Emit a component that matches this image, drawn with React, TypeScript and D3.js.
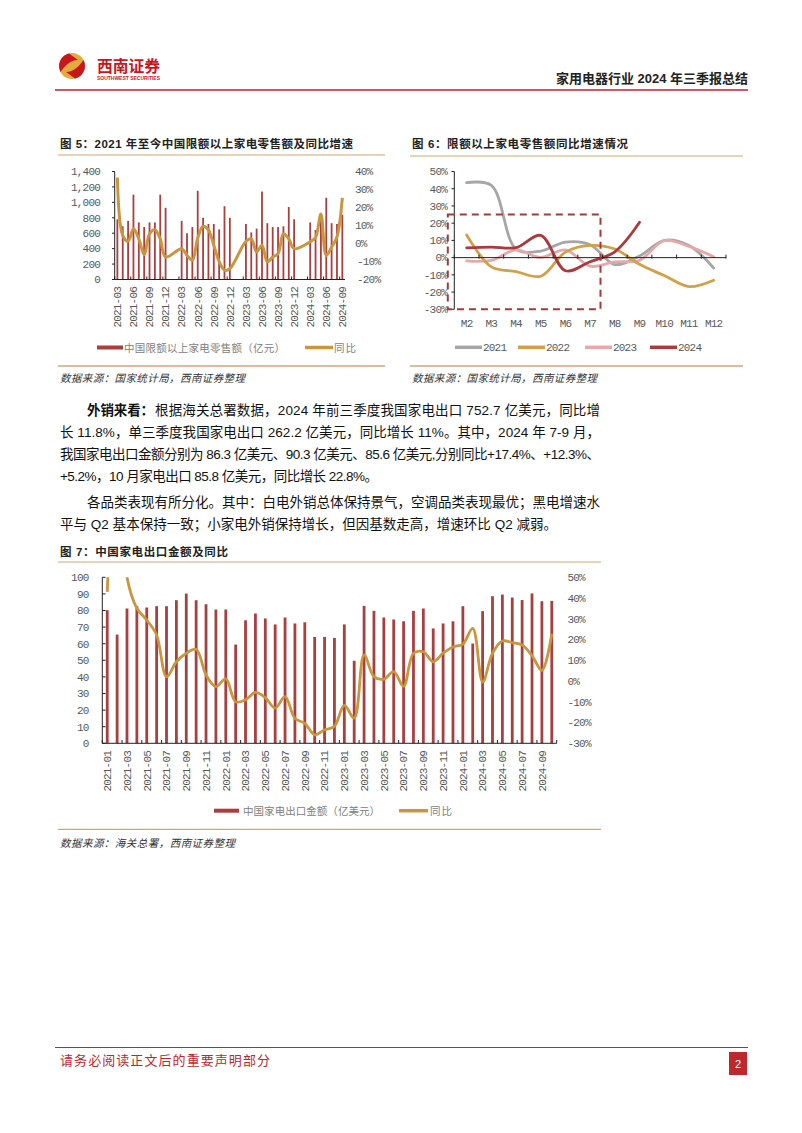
import React from "react";
import * as d3 from "d3";

// ---------------- Data ----------------
// Chart 5: 限额以上家电零售额（亿元） & 同比 (%)
const c5Months = [
  "2021-03","2021-04","2021-05","2021-06","2021-07","2021-08","2021-09","2021-10","2021-11","2021-12",
  "2022-01","2022-02","2022-03","2022-04","2022-05","2022-06","2022-07","2022-08","2022-09","2022-10","2022-11","2022-12",
  "2023-01","2023-02","2023-03","2023-04","2023-05","2023-06","2023-07","2023-08","2023-09","2023-10","2023-11","2023-12",
  "2024-01","2024-02","2024-03","2024-04","2024-05","2024-06","2024-07","2024-08","2024-09",
];
const c5Sales: (number | null)[] = [
  780, 690, 760, 1100, 740, 680, 740, 740, 1100, 930,
  null, null, 760, 600, 680, 1150, 800, 720, 720, 650, 950, 800,
  null, null, 720, 610, 660, 1140, 730, 680, 680, 690, 940, 780,
  null, null, 740, 640, 800, 1060, 730, 720, 840,
];
const c5Yoy: (number | null)[] = [
  36.7, 4.5, 1.2, 8.2, 2.6, -6.2, 5.4, 7.6, 2.6, -7.5,
  null, null, -2.9, -6.6, -9.3, 3, 9.6, 7.5, -1, -10, -14.8, -14,
  null, null, 1.2, 2.6, -4.7, -1, -10.2, -7.5, -5.6, 5.4, 2.6, -2.9,
  null, null, 1, 3.3, 16.4, -6.6, -2, 3.6, 25.3,
];
const c5TickLabels = [
  "2021-03","2021-06","2021-09","2021-12","2022-03","2022-06","2022-09","2022-12",
  "2023-03","2023-06","2023-09","2023-12","2024-03","2024-06","2024-09",
];
const c5LeftTicks = [0, 200, 400, 600, 800, 1000, 1200, 1400];
const c5RightTicks = [-20, -10, 0, 10, 20, 30, 40];

// Chart 6: 限额以上家电零售额同比增速 (%)
const c6Months = ["M2","M3","M4","M5","M6","M7","M8","M9","M10","M11","M12"];
const c6Y2021 = [43.5, 42, 5, 3.8, 9, 7.5, -4, 1, 10, 7, -6];
const c6Y2022 = [13.1, -5.4, -8.1, -10.8, 3.2, 7.1, 5, -3.9, -10.4, -16.8, -13.1];
const c6Y2023 = [-1.9, -1.6, 4.5, 0.1, 4.5, -5, -2.5, -1.5, 9.8, 6.5, 0.5];
const c6Y2024 = [5.7, 6.1, 5.8, 12.9, -7.6, -2.4, 3.4, 20.5];
const c6Series = ["2021", "2022", "2023", "2024"];
const c6Ticks = [-30, -20, -10, 0, 10, 20, 30, 40, 50];

// Chart 7: 中国家电出口金额（亿美元） & 同比 (%)
const c7Months = [
  "2021-01","2021-02","2021-03","2021-04","2021-05","2021-06","2021-07","2021-08","2021-09","2021-10","2021-11","2021-12",
  "2022-01","2022-02","2022-03","2022-04","2022-05","2022-06","2022-07","2022-08","2022-09","2022-10","2022-11","2022-12",
  "2023-01","2023-02","2023-03","2023-04","2023-05","2023-06","2023-07","2023-08","2023-09","2023-10","2023-11","2023-12",
  "2024-01","2024-02","2024-03","2024-04","2024-05","2024-06","2024-07","2024-08","2024-09","2024-10",
];
const c7Export = [
  80.2, 65.5, 81.2, 82.6, 81.8, 82.6, 82.6, 86.2, 90.2, 86.2, 83.8, 80.6,
  80.6, 59.5, 74.1, 78.2, 75.2, 71.6, 75.8, 72.2, 72.9, 64.1, 64.1, 63.5,
  71.6, 49.7, 82.8, 79.8, 75.8, 74.6, 73.5, 79.8, 81.2, 69.2, 72.2, 73.5,
  82.6, 60.1, 79.6, 88.6, 89.6, 87.8, 86.3, 90.3, 85.6, 85.8,
];
const c7Yoy = [
  43, 120, 50, 35.1, 29.4, 22.2, 2.1, 9.3, 13.4, 15.3, 3, -2.7,
  1, -10, -9, -5.5, -8, -13, -7.5, -18, -20.4, -25.9, -23.5, -21.8,
  -11.7, -17.9, 12.6, 2.1, 0.9, 4.5, -2.5, 13.4, 14.1, 9.3, 13.4, 16.4,
  17.8, 25.4, -0.5, 13.4, 19.3, 18.5, 17.4, 12.3, 5.2, 22.8,
];
const c7TickLabels = [
  "2021-01","2021-03","2021-05","2021-07","2021-09","2021-11",
  "2022-01","2022-03","2022-05","2022-07","2022-09","2022-11",
  "2023-01","2023-03","2023-05","2023-07","2023-09","2023-11",
  "2024-01","2024-03","2024-05","2024-07","2024-09",
];
const c7LeftTicks = [0, 10, 20, 30, 40, 50, 60, 70, 80, 90, 100];
const c7RightTicks = [-30, -20, -10, 0, 10, 20, 30, 40, 50];

// Texts
const para1Lines = [
  "根据海关总署数据，2024 年前三季度我国家电出口 752.7 亿美元，同比增",
  "长 11.8%，单三季度我国家电出口 262.2 亿美元，同比增长 11%。其中，2024 年 7-9 月，",
  "我国家电出口金额分别为 86.3 亿美元、90.3 亿美元、85.6 亿美元,分别同比+17.4%、+12.3%、",
  "+5.2%，10 月家电出口 85.8 亿美元，同比增长 22.8%。",
];
const para2Lines = [
  "各品类表现有所分化。其中：白电外销总体保持景气，空调品类表现最优；黑电增速水",
  "平与 Q2 基本保持一致；小家电外销保持增长，但因基数走高，增速环比 Q2 减弱。",
];

// ---------------- Styles ----------------
const MONO = '"Liberation Mono", "DejaVu Sans Mono", monospace';
const CJK = '"Liberation Sans", "Noto Sans CJK SC", sans-serif';
const BAR = "#A8403F";
const GOLD = "#C9963F";
const TAN = "#D6A66E";
const RED = "#C0272D";
const SER_COLORS: Record<string, string> = {
  "2021": "#A6A6A6",
  "2022": "#D2A048",
  "2023": "#E6A9AB",
  "2024": "#A93A3E",
};
const tickText: React.CSSProperties = {
  fontFamily: MONO,
  fontSize: 11,
  letterSpacing: -0.8,
  fill: "#595959",
};

type Pt = { x: number; y: number };
const smooth = d3
  .line<Pt>()
  .x((d) => d.x)
  .y((d) => d.y)
  .curve(d3.curveCatmullRom.alpha(0.5));

// ---------------- Chart 5 ----------------
function Chart5() {
  const x = d3.scaleBand<string>().domain(c5Months).range([114.7, 345]);
  const yL = d3.scaleLinear().domain([0, 1400]).range([279.5, 171.5]);
  const yR = d3.scaleLinear().domain([-20, 40]).range([279.5, 171.5]);
  const cx = (m: string) => (x(m) as number) + x.bandwidth() / 2;
  const pts: Pt[] = [];
  c5Months.forEach((m, i) => {
    const v = c5Yoy[i];
    if (v != null) pts.push({ x: cx(m), y: yR(v) });
  });
  const fmt = d3.format(",");
  return (
    <g>
      <text x={60} y={148} textLength={293} lengthAdjust="spacing"
        style={{ fontFamily: CJK, fontSize: 11.5, fontWeight: 700, fill: "#222" }}>
        图 5：2021 年至今中国限额以上家电零售额及同比增速
      </text>
      <line x1={58} x2={385} y1={155} y2={155} stroke={TAN} strokeWidth={1.2} />
      {c5Months.map((m, i) => {
        const v = c5Sales[i];
        if (v == null) return null;
        return (
          <rect key={m} x={cx(m) - 0.9} width={1.8} y={yL(v)} height={yL(0) - yL(v)} fill={BAR} />
        );
      })}
      <path d={smooth(pts) || ""} fill="none" stroke={GOLD} strokeWidth={3} strokeLinejoin="round" />
      {/* axes */}
      <line x1={114.7} x2={114.7} y1={171.5} y2={279.5} stroke="#222" strokeWidth={1} />
      {c5LeftTicks.map((t) => (
        <g key={t}>
          <line x1={112} x2={114.7} y1={yL(t)} y2={yL(t)} stroke="#222" />
          <text x={100} y={yL(t) + 3.8} textAnchor="end" style={tickText}>{fmt(t)}</text>
        </g>
      ))}
      {c5RightTicks.map((t) => (
        <text key={t} x={t < 0 ? 357 : 355} y={yR(t) + 3.8} style={tickText}>{t}%</text>
      ))}
      <line x1={114.7} x2={345} y1={279.5} y2={279.5} stroke="#222" strokeWidth={1} />
      {c5TickLabels.map((m) => (
        <g key={m}>
          <line x1={x(m) as number} x2={x(m) as number} y1={276.5} y2={279.5} stroke="#222" />
          <text transform={`translate(${cx(m) + 3.8},${287}) rotate(-90)`} textAnchor="end" style={tickText}>
            {m}
          </text>
        </g>
      ))}
      {/* legend */}
      <rect x={97} y={345.5} width={26} height={4} fill={BAR} />
      <text x={124} y={351.5} textLength={161} lengthAdjust="spacing"
        style={{ fontFamily: CJK, fontSize: 10.5, fill: "#808080" }}>
        中国限额以上家电零售额（亿元）
      </text>
      <line x1={305} x2={333} y1={347.5} y2={347.5} stroke={GOLD} strokeWidth={3.5} />
      <text x={334} y={351.5} textLength={22} lengthAdjust="spacing"
        style={{ fontFamily: CJK, fontSize: 10.5, fill: "#808080" }}>同比</text>
      <line x1={58} x2={385} y1={366} y2={366} stroke={TAN} strokeWidth={1.3} />
      <text x={60} y={382} textLength={185} lengthAdjust="spacing"
        style={{ fontFamily: CJK, fontSize: 10.5, fontStyle: "italic", fill: "#333" }}>
        数据来源：国家统计局，西南证券整理
      </text>
    </g>
  );
}

// ---------------- Chart 6 ----------------
function Chart6() {
  const x = d3.scaleBand<string>().domain(c6Months).range([454.3, 726]);
  const y = d3.scaleLinear().domain([-30, 50]).range([309.3, 171.5]);
  const cx = (m: string) => (x(m) as number) + x.bandwidth() / 2;
  const seriesData: Record<string, number[]> = {
    "2021": c6Y2021,
    "2022": c6Y2022,
    "2023": c6Y2023,
    "2024": c6Y2024,
  };
  const order = ["2021", "2023", "2022", "2024"];
  const legendX = [455, 518, 585, 650];
  return (
    <g>
      <text x={412} y={148} textLength={216} lengthAdjust="spacing"
        style={{ fontFamily: CJK, fontSize: 11.5, fontWeight: 700, fill: "#222" }}>
        图 6：限额以上家电零售额同比增速情况
      </text>
      <line x1={410} x2={743} y1={156} y2={156} stroke={TAN} strokeWidth={1.2} />
      {order.map((s) => {
        const pts: Pt[] = seriesData[s].map((v, i) => ({ x: cx(c6Months[i]), y: y(v) }));
        return (
          <path key={s} d={smooth(pts) || ""} fill="none" stroke={SER_COLORS[s]} strokeWidth={2.8}
            strokeLinejoin="round" strokeLinecap="round" />
        );
      })}
      {/* axes */}
      <line x1={454.3} x2={454.3} y1={171.5} y2={309.3} stroke="#222" />
      {c6Ticks.map((t) => (
        <g key={t}>
          <line x1={451.5} x2={454.3} y1={y(t)} y2={y(t)} stroke="#222" />
          <text x={447} y={y(t) + 3.8} textAnchor="end" style={tickText}>{t}%</text>
        </g>
      ))}
      <line x1={454.3} x2={726} y1={y(0)} y2={y(0)} stroke="#222" />
      {[...c6Months.map((m) => x(m) as number), 726].map((bx, i) => (
        <line key={i} x1={bx} x2={bx} y1={y(0) - 3} y2={y(0) + 1} stroke="#222" />
      ))}
      {c6Months.map((m) => (
        <text key={m} x={cx(m)} y={326.5} textAnchor="middle" style={tickText}>{m}</text>
      ))}
      {/* dashed annotation box */}
      <rect x={454.3 - 6.5} y={y(25)} width={(x("M8") as number) - 2 - (454.3 - 6.5)} height={y(-30) - y(25)}
        fill="none" stroke="#A33A3D" strokeWidth={2} strokeDasharray="7,5" />
      {/* legend */}
      {c6Series.map((s, i) => (
        <g key={s}>
          <line x1={legendX[i]} x2={legendX[i] + 27} y1={347.3} y2={347.3} stroke={SER_COLORS[s]} strokeWidth={3.5} />
          <text x={legendX[i] + 28} y={351.3} style={tickText}>{s}</text>
        </g>
      ))}
      <line x1={410} x2={743} y1={366} y2={366} stroke={TAN} strokeWidth={1.3} />
      <text x={412} y={382} textLength={185} lengthAdjust="spacing"
        style={{ fontFamily: CJK, fontSize: 10.5, fontStyle: "italic", fill: "#333" }}>
        数据来源：国家统计局，西南证券整理
      </text>
    </g>
  );
}

// ---------------- Chart 7 ----------------
function Chart7() {
  const x = d3.scaleBand<string>().domain(c7Months).range([102.3, 556.7]);
  const yL = d3.scaleLinear().domain([0, 100]).range([743.3, 577.3]);
  const yR = d3.scaleLinear().domain([-30, 50]).range([743.3, 577.3]);
  const cx = (m: string) => (x(m) as number) + x.bandwidth() / 2;
  const pts: Pt[] = c7Months.map((m, i) => ({ x: cx(m), y: yR(c7Yoy[i]) }));
  return (
    <g>
      <text x={60} y={556} textLength={168} lengthAdjust="spacing"
        style={{ fontFamily: CJK, fontSize: 11.5, fontWeight: 700, fill: "#222" }}>
        图 7：中国家电出口金额及同比
      </text>
      <line x1={58} x2={601} y1={562} y2={562} stroke={TAN} strokeWidth={1.2} />
      <defs>
        <clipPath id="c7clip">
          <rect x={102.3} y={577.3} width={454.4} height={166} />
        </clipPath>
      </defs>
      {c7Months.map((m, i) => (
        <rect key={m} x={cx(m) - 1.4} width={2.8} y={yL(c7Export[i])} height={yL(0) - yL(c7Export[i])} fill={BAR} />
      ))}
      <path d={smooth(pts) || ""} fill="none" stroke={GOLD} strokeWidth={2.8} strokeLinejoin="round"
        clipPath="url(#c7clip)" />
      {/* axes */}
      <line x1={102.3} x2={102.3} y1={577.3} y2={743.3} stroke="#222" />
      {c7LeftTicks.map((t) => (
        <g key={t}>
          <line x1={102.3} x2={105.5} y1={yL(t)} y2={yL(t)} stroke="#222" />
          <text x={88.5} y={yL(t) + 3.8} textAnchor="end" style={tickText}>{t}</text>
        </g>
      ))}
      {c7RightTicks.map((t) => (
        <text key={t} x={567.5} y={yR(t) + 3.8} style={tickText}>{t}%</text>
      ))}
      <line x1={102.3} x2={556.7} y1={743.3} y2={743.3} stroke="#222" />
      {[...c7TickLabels.map((m) => x(m) as number), 556.7].map((bx, i) => (
        <line key={i} x1={bx} x2={bx} y1={740} y2={743.3} stroke="#222" />
      ))}
      {c7TickLabels.map((m) => (
        <text key={m} transform={`translate(${cx(m) + 3.8},${751}) rotate(-90)`} textAnchor="end" style={tickText}>
          {m}
        </text>
      ))}
      {/* legend */}
      <rect x={214} y={808.7} width={25} height={4} fill={BAR} />
      <text x={243} y={814.7} textLength={137} lengthAdjust="spacing"
        style={{ fontFamily: CJK, fontSize: 10.5, fill: "#808080" }}>
        中国家电出口金额（亿美元）
      </text>
      <line x1={399} x2={428} y1={810.7} y2={810.7} stroke={GOLD} strokeWidth={3.5} />
      <text x={430} y={814.7} textLength={22} lengthAdjust="spacing"
        style={{ fontFamily: CJK, fontSize: 10.5, fill: "#808080" }}>同比</text>
      <line x1={58} x2={601} y1={829.3} y2={829.3} stroke={TAN} strokeWidth={1.3} />
      <text x={60} y={846.5} textLength={175} lengthAdjust="spacing"
        style={{ fontFamily: CJK, fontSize: 10.5, fontStyle: "italic", fill: "#333" }}>
        数据来源：海关总署，西南证券整理
      </text>
    </g>
  );
}

// ---------------- Page ----------------
function Header() {
  return (
    <g>
      <g transform="translate(72,66)">
        <circle r={13} fill="#E3AA3E" />
        <path d="M -3,-12.6 A 13 13 0 0 0 -11.5 6 C -7 0 -2 -6 6 -6 C 2 -9 -1 -11 -3 -12.6 Z" fill="#C8161D" />
        <path d="M 3,12.6 A 13 13 0 0 0 11.5 -6 C 7 0 2 6 -6 6 C -2 9 1 11 3 12.6 Z" fill="#C8161D" />
      </g>
      <text x={97} y={72} textLength={63} lengthAdjust="spacingAndGlyphs"
        style={{ fontFamily: CJK, fontSize: 16, fontWeight: 700, fill: "#C8161D" }}>西南证券</text>
      <text x={97} y={80} textLength={63} lengthAdjust="spacingAndGlyphs"
        style={{ fontFamily: CJK, fontSize: 5.5, fontWeight: 700, fill: "#C8161D" }}>SOUTHWEST SECURITIES</text>
      <text x={556} y={83} textLength={192} lengthAdjust="spacing"
        style={{ fontFamily: CJK, fontSize: 13, fontWeight: 700, fill: "#222" }}>
        家用电器行业 2024 年三季报总结
      </text>
      <line x1={55} x2={748} y1={90} y2={90} stroke="#B5272D" strokeWidth={1.5} />
    </g>
  );
}

function Body() {
  const bodyStyle: React.CSSProperties = { fontFamily: CJK, fontSize: 13.5, fill: "#111" };
  const p1Y = [415, 437, 459, 481];
  const p1X = [155, 60, 60, 60];
  const p1Len = [445, 540, 540, 318];
  const p2Y = [507, 529];
  const p2X = [87, 60];
  const p2Len = [513, 497];
  return (
    <g>
      <text x={87} y={415} textLength={67} lengthAdjust="spacing" style={{ ...bodyStyle, fontWeight: 700 }}>
        外销来看：
      </text>
      {para1Lines.map((l, i) => (
        <text key={i} x={p1X[i]} y={p1Y[i]} textLength={p1Len[i]} lengthAdjust="spacing" style={bodyStyle}>
          {l}
        </text>
      ))}
      {para2Lines.map((l, i) => (
        <text key={i} x={p2X[i]} y={p2Y[i]} textLength={p2Len[i]} lengthAdjust="spacing" style={bodyStyle}>
          {l}
        </text>
      ))}
    </g>
  );
}

function Footer() {
  return (
    <g>
      <line x1={55} x2={748} y1={1047.5} y2={1047.5} stroke={RED} strokeWidth={1.2} />
      <text x={60} y={1065} textLength={210} lengthAdjust="spacing"
        style={{ fontFamily: CJK, fontSize: 13, fill: RED }}>
        请务必阅读正文后的重要声明部分
      </text>
      <rect x={729} y={1052} width={18} height={23} fill={RED} />
      <text x={738} y={1067.5} textAnchor="middle" style={{ fontFamily: CJK, fontSize: 11, fill: "#fff" }}>2</text>
    </g>
  );
}

export default function App() {
  return (
    <svg width={802} height={1133} viewBox="0 0 802 1133"
      style={{ position: "absolute", left: 0, top: 0, background: "#fff" }}>
      <rect x={0} y={0} width={802} height={1133} fill="#fff" />
      <Header />
      <Chart5 />
      <Chart6 />
      <Body />
      <Chart7 />
      <Footer />
    </svg>
  );
}
